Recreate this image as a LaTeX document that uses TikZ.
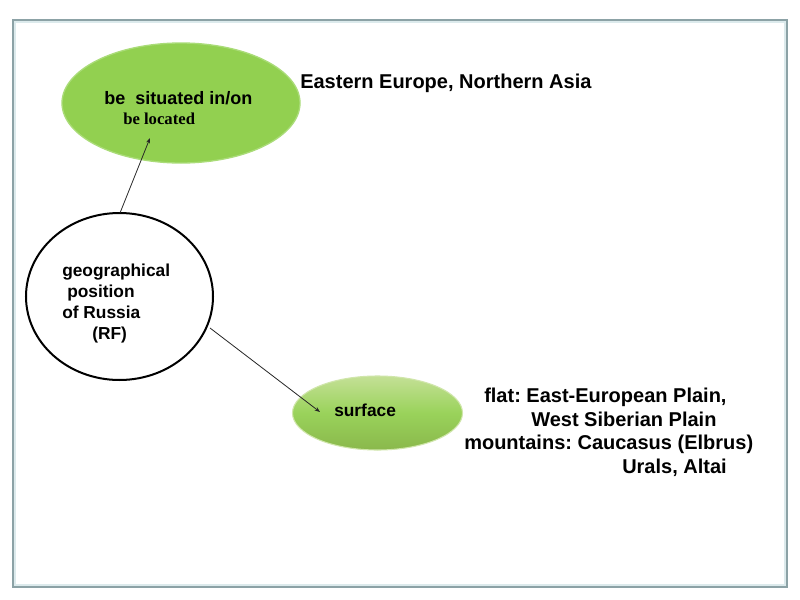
\documentclass[tikz,border=0pt]{standalone}
\usepackage{fontspec}
\setmainfont{Liberation Sans}
\newfontfamily\serifb{Liberation Serif}
\usetikzlibrary{arrows.meta,shapes.geometric}
\frenchspacing
\definecolor{framec}{RGB}{140,162,166}
\definecolor{framein}{RGB}{220,234,236}
\definecolor{greenA}{RGB}{146,208,80}
\definecolor{greenEdge}{RGB}{170,220,120}
\definecolor{surfTop}{RGB}{196,224,150}
\definecolor{surfBot}{RGB}{138,184,76}
\tikzset{
  lbl/.style={inner sep=0pt, anchor=base west, font=\bfseries\fontsize{15}{18}\selectfont},
  clbl/.style={inner sep=0pt, anchor=base west, font=\bfseries\fontsize{13}{16}\selectfont},
  conn/.style={draw=black!85, line width=0.6pt, -{Stealth[length=4pt,width=3pt]}}
}
\begin{document}
\begin{tikzpicture}[x=0.75pt,y=-0.75pt]
\useasboundingbox (0,0) rectangle (800,600);
\fill[white] (0,0) rectangle (800,600);
\draw[framein, line width=1pt] (15,22) rectangle (785,585);
\draw[framec, line width=1.5pt] (13,20) rectangle (787,587);

% top green ellipse
\node[ellipse, minimum width=238*0.75pt, minimum height=120*0.75pt, fill=greenA, draw=greenEdge, line width=1pt, inner sep=0pt] (sit) at (181,103) {};
% circle
\node[ellipse, minimum width=187*0.75pt, minimum height=167*0.75pt, fill=white, draw=black, line width=1.5pt, inner sep=0pt] (geo) at (119.5,296.5) {};
% surface ellipse
\node[ellipse, minimum width=170*0.75pt, minimum height=74*0.75pt, top color=surfTop, bottom color=surfBot, middle color=greenA!85!surfTop, draw=surfTop!80!white, line width=0.8pt, inner sep=0pt] (surf) at (377.5,413) {};

\coordinate (a1s) at (120,213);
\coordinate (a1e) at (150,138);
\coordinate (a2s) at (210,328);
\coordinate (a2e) at (320,412);
\draw[conn] (a1s) -- (a1e);
\draw[conn] (a2s) -- (a2e);

\node[inner sep=0pt, anchor=base west, font=\bfseries\fontsize{13.5}{16}\selectfont] (t1) at (104,104) {be\ \ situated in/on};
\node[inner sep=0pt, anchor=base west, font=\serifb\bfseries\fontsize{12.5}{15}\selectfont] (t2) at (123,124) {be located};
\node[lbl] (east) at (300,88) {Eastern Europe, Northern Asia};

\node[clbl] (g1) at (62,276) {geographical};
\node[clbl] (g2) at (67,297) {position};
\node[clbl] (g3) at (62,318) {of Russia};
\node[clbl] (g4) at (92,339) {(RF)};

\node[clbl] (sf) at (334,416) {surface};

\node[lbl] (r1) at (484,402) {flat: East-European Plain,};
\node[lbl] (r2) at (531,426) {West Siberian Plain};
\node[lbl] (r3) at (464,449) {mountains: Caucasus (Elbrus)};
\node[lbl] (r4) at (622,473) {Urals, Altai};
\end{tikzpicture}
\end{document}
